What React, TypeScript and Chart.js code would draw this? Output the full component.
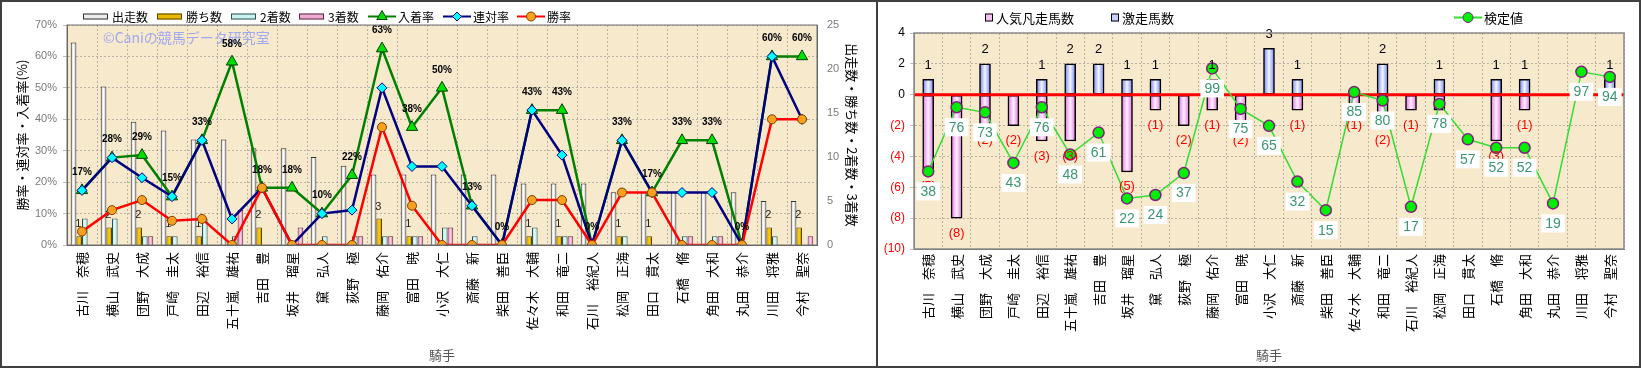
import React, { useEffect, useRef } from 'react';
import { Chart, registerables } from 'chart.js';

Chart.register(...registerables);

// ---------------- data ----------------
const jockeys = [
  '古川　奈穂', '横山　武史', '団野　大成', '戸崎　圭太', '田辺　裕信', '五十嵐　雄祐', '吉田　豊',
  '坂井　瑠星', '黛　弘人', '荻野　極', '藤岡　佑介', '富田　暁', '小沢　大仁', '斎藤　新',
  '柴田　善臣', '佐々木　大輔', '和田　竜二', '石川　裕紀人', '松岡　正海', '田口　貫太',
  '石橋　脩', '角田　大和', '丸田　恭介', '川田　将雅', '今村　聖奈',
];
const starts = [23, 18, 14, 13, 12, 12, 11, 11, 10, 9, 8, 8, 8, 8, 8, 7, 7, 7, 6, 6, 6, 6, 6, 5, 5];
const wins = [1, 2, 2, 1, 1, 0, 2, 0, 0, 0, 3, 1, 0, 0, 0, 1, 1, 0, 1, 1, 0, 0, 0, 2, 2];
const seconds = [3, 3, 1, 1, 3, 1, 0, 0, 1, 1, 1, 1, 2, 1, 0, 2, 1, 0, 1, 0, 1, 1, 0, 1, 0];
const thirds = [0, 0, 1, 0, 0, 4, 0, 2, 0, 1, 1, 1, 2, 0, 0, 0, 1, 0, 0, 0, 1, 1, 0, 0, 1];
const placeRate = [17.4, 27.8, 28.6, 15.4, 33.3, 58.3, 18.2, 18.2, 10.0, 22.2, 62.5, 37.5, 50.0, 12.5, 0, 42.9, 42.9, 0, 33.3, 16.7, 33.3, 33.3, 0, 60.0, 60.0];
const quinellaRate = [17.4, 27.8, 21.4, 15.4, 33.3, 8.3, 18.2, 0, 10.0, 11.1, 50.0, 25.0, 25.0, 12.5, 0, 42.9, 28.6, 0, 33.3, 16.7, 16.7, 16.7, 0, 60.0, 40.0];
const winRate = [4.3, 11.1, 14.3, 7.7, 8.3, 0, 18.2, 0, 0, 0, 37.5, 12.5, 0, 0, 0, 14.3, 14.3, 0, 16.7, 16.7, 0, 0, 0, 40.0, 40.0];

const flopCounts = [-5, -8, -2, -2, -3, -3, 0, -5, -1, -2, -1, -2, 0, -1, 0, -1, -2, -1, -1, 0, -3, -1, 0, 0, 0];
const upsetCounts = [1, 0, 2, 0, 1, 2, 2, 1, 1, 0, 1, 0, 3, 1, 0, 0, 2, 0, 1, 0, 1, 1, 0, 0, 1];
const testScores = [38, 76, 73, 43, 76, 48, 61, 22, 24, 37, 99, 75, 65, 32, 15, 85, 80, 17, 78, 57, 52, 52, 19, 97, 94];

const leftSeriesLabels = ['出走数', '勝ち数', '2着数', '3着数', '入着率', '連対率', '勝率'];
const rightSeriesLabels = ['人気凡走馬数', '激走馬数', '検定値'];
const rateAxisTitle = '勝率・連対率・入着率(%)';
const countAxisTitle = '出走数・勝ち数・2着数・3着数';
const xAxisTitle = '騎手';
const watermarkText = '©Caniの競馬データ研究室';

// ---------------- styles ----------------
const JP = "'Noto Sans CJK JP', sans-serif";
const NUM = "'Liberation Sans', 'Noto Sans CJK JP', sans-serif";
const PARCH = '#f7e9cc';
const GRID = 'rgba(110,110,110,0.45)';

function barFill(stops: string[], slot: number, slots: number, groupPct: number, fixedWidth?: number) {
  return (c: any) => {
    const chart = c.chart;
    const xs = chart.scales && chart.scales.x;
    if (c.type !== 'data' || !xs || !xs.width) return stops[1];
    const n = chart.data.labels.length;
    const cw = xs.width / n;
    const bw = fixedWidth !== undefined ? fixedWidth : (cw * groupPct) / slots;
    const cx = xs.getPixelForValue(c.dataIndex) + (slot - (slots - 1) / 2) * bw;
    const g = chart.ctx.createLinearGradient(cx - bw / 2, 0, cx + bw / 2, 0);
    g.addColorStop(0, stops[0]);
    g.addColorStop(0.5, stops[1]);
    g.addColorStop(1, stops[2]);
    return g;
  };
}

function drawMarker(ctx: CanvasRenderingContext2D, kind: string, x: number, y: number, r: number, fill: string, stroke: string, lw: number) {
  ctx.beginPath();
  if (kind === 'triangle') {
    ctx.moveTo(x, y - r);
    ctx.lineTo(x + r * 0.866, y + r * 0.5);
    ctx.lineTo(x - r * 0.866, y + r * 0.5);
    ctx.closePath();
  } else if (kind === 'diamond') {
    ctx.moveTo(x, y - r);
    ctx.lineTo(x + r, y);
    ctx.lineTo(x, y + r);
    ctx.lineTo(x - r, y);
    ctx.closePath();
  } else {
    ctx.arc(x, y, r, 0, Math.PI * 2);
  }
  ctx.fillStyle = fill;
  ctx.fill();
  ctx.lineWidth = lw;
  ctx.strokeStyle = stroke;
  ctx.stroke();
}

type LegendStyle = {
  x: number; kind: 'bar' | 'line' | 'square'; fill: string; stroke: string;
  line?: string; marker?: string; markerFill?: string; markerStroke?: string; r?: number;
};

function drawLegend(chart: any, styles: LegendStyle[], y: number, font: string) {
  const ctx: CanvasRenderingContext2D = chart.ctx;
  ctx.save();
  ctx.font = font;
  ctx.textBaseline = 'middle';
  ctx.textAlign = 'left';
  styles.forEach((st, i) => {
    const label = chart.data.datasets[i].label;
    let tx = st.x;
    if (st.kind === 'bar') {
      ctx.fillStyle = st.fill;
      ctx.strokeStyle = st.stroke;
      ctx.lineWidth = 1;
      ctx.fillRect(st.x, y - 3, 25, 6);
      ctx.strokeRect(st.x + 0.5, y - 2.5, 24, 5);
      tx = st.x + 29;
    } else if (st.kind === 'square') {
      ctx.fillStyle = st.fill;
      ctx.strokeStyle = st.stroke;
      ctx.lineWidth = 1;
      ctx.fillRect(st.x, y - 4, 8, 8);
      ctx.strokeRect(st.x + 0.5, y - 3.5, 7, 7);
      tx = st.x + 11;
    } else {
      ctx.strokeStyle = st.line || '#000';
      ctx.lineWidth = 2;
      ctx.beginPath();
      ctx.moveTo(st.x, y);
      ctx.lineTo(st.x + 28, y);
      ctx.stroke();
      drawMarker(ctx, st.marker || 'circle', st.x + 14, y, st.r || 4.5, st.markerFill || '#fff', st.markerStroke || '#000', 1);
      tx = st.x + 30;
    }
    ctx.fillStyle = '#000';
    ctx.fillText(label, tx, y + 0.5);
  });
  ctx.restore();
}

function fillArea(chart: any) {
  const { ctx, chartArea: a } = chart;
  ctx.save();
  ctx.fillStyle = PARCH;
  ctx.fillRect(a.left, a.top, a.right - a.left, a.bottom - a.top);
  ctx.restore();
}

function strokeArea(chart: any, color: string, lw: number) {
  const { ctx, chartArea: a } = chart;
  ctx.save();
  ctx.strokeStyle = color;
  ctx.lineWidth = lw;
  ctx.strokeRect(a.left, a.top, a.right - a.left, a.bottom - a.top);
  ctx.restore();
}

const leftLegendStyles: LegendStyle[] = [
  { x: 83, kind: 'bar', fill: '#ececec', stroke: '#303030' },
  { x: 157, kind: 'bar', fill: '#e8b800', stroke: '#5a4400' },
  { x: 231, kind: 'bar', fill: '#c8f2f2', stroke: '#305050' },
  { x: 299, kind: 'bar', fill: '#f2a8d0', stroke: '#503040' },
  { x: 368, kind: 'line', fill: '', stroke: '', line: '#008000', marker: 'triangle', markerFill: '#00e000', markerStroke: '#004000', r: 6 },
  { x: 443, kind: 'line', fill: '', stroke: '', line: '#000080', marker: 'diamond', markerFill: '#00ffff', markerStroke: '#000080', r: 4.5 },
  { x: 517, kind: 'line', fill: '', stroke: '', line: '#ff0000', marker: 'circle', markerFill: '#f8a020', markerStroke: '#804000', r: 4.5 },
];

const rightLegendStyles: LegendStyle[] = [
  { x: 107, kind: 'square', fill: '#f6c0f6', stroke: '#000' },
  { x: 233, kind: 'square', fill: '#c8d0ff', stroke: '#000' },
  { x: 576, kind: 'line', fill: '', stroke: '', line: '#33dd33', marker: 'circle', markerFill: '#00ee00', markerStroke: '#802080', r: 5 },
];

const leftDecor = {
  id: 'leftDecor',
  beforeDraw(chart: any) { fillArea(chart); },
  beforeDatasetsDraw(chart: any) {
    const { ctx, chartArea: a } = chart;
    ctx.save();
    ctx.font = `14px ${JP}`;
    ctx.fillStyle = '#a0a8f0';
    ctx.textAlign = 'left';
    ctx.textBaseline = 'middle';
    ctx.fillText(watermarkText, a.left + 36, a.top + 13);
    ctx.restore();
  },
  afterDatasetDraw(chart: any, args: any) {
    if (args.index !== 0) return;
    const ctx = chart.ctx;
    const meta = chart.getDatasetMeta(1);
    ctx.save();
    ctx.font = `11px ${NUM}`;
    ctx.fillStyle = '#222';
    ctx.textAlign = 'center';
    ctx.textBaseline = 'middle';
    meta.data.forEach((bar: any, i: number) => {
      if (wins[i] > 0) ctx.fillText(String(wins[i]), bar.x - 1, bar.y - 12);
    });
    ctx.restore();
  },
  afterDatasetsDraw(chart: any) {
    const ctx = chart.ctx;
    const meta = chart.getDatasetMeta(4);
    ctx.save();
    ctx.font = `bold 10px ${NUM}`;
    ctx.fillStyle = '#000';
    ctx.textAlign = 'center';
    ctx.textBaseline = 'middle';
    meta.data.forEach((pt: any, i: number) => {
      ctx.fillText(`${Math.round(placeRate[i])}%`, pt.x, pt.y - 18);
    });
    ctx.restore();
    strokeArea(chart, '#707070', 1);
  },
  afterDraw(chart: any) {
    drawLegend(chart, leftLegendStyles, 16.5, `12px ${JP}`);
  },
};

const rightDecor = {
  id: 'rightDecor',
  beforeDraw(chart: any) { fillArea(chart); },
  beforeDatasetDraw(chart: any, args: any) {
    if (args.index !== 2) return;
    const { ctx, chartArea: a } = chart;
    const y0 = chart.scales.y.getPixelForValue(0);
    ctx.save();
    ctx.strokeStyle = '#ff0000';
    ctx.lineWidth = 3;
    ctx.beginPath();
    ctx.moveTo(a.left, y0);
    ctx.lineTo(a.right, y0);
    ctx.stroke();
    ctx.restore();
  },
  afterDatasetsDraw(chart: any) {
    const ctx = chart.ctx;
    ctx.save();
    ctx.font = `13px ${NUM}`;
    ctx.textAlign = 'center';
    ctx.textBaseline = 'middle';
    const flopMeta = chart.getDatasetMeta(0);
    const upMeta = chart.getDatasetMeta(1);
    upMeta.data.forEach((bar: any, i: number) => {
      if (upsetCounts[i] > 0) {
        ctx.fillStyle = '#000';
        ctx.fillText(String(upsetCounts[i]), bar.x, bar.y - 14);
      }
    });
    flopMeta.data.forEach((bar: any, i: number) => {
      if (flopCounts[i] < 0) {
        ctx.fillStyle = '#ff0000';
        ctx.fillText(`(${-flopCounts[i]})`, bar.x, bar.y + 15);
      }
    });
    const lineMeta = chart.getDatasetMeta(2);
    ctx.font = `14px ${NUM}`;
    lineMeta.data.forEach((pt: any, i: number) => {
      const t = String(testScores[i]);
      const w = ctx.measureText(t).width + 8;
      const cy = pt.y + 20;
      ctx.fillStyle = '#ffffff';
      ctx.fillRect(pt.x - w / 2, cy - 9, w, 18);
      ctx.fillStyle = '#3a9670';
      ctx.fillText(t, pt.x, cy + 0.5);
    });
    ctx.restore();
  },
  afterDraw(chart: any) {
    strokeArea(chart, '#8a8a8a', 1.5);
    drawLegend(chart, rightLegendStyles, 17.5, `13px ${JP}`);
  },
};

function xScale(height: number, pad: number) {
  return {
    offset: true,
    stacked: true,
    grid: { display: true, color: GRID, offset: true, drawTicks: false },
    border: { display: true, color: '#606060', width: 1, dash: [2, 2] },
    ticks: { autoSkip: false, minRotation: 90, maxRotation: 90, padding: pad, color: '#000', font: { family: JP, size: 13 } },
    title: { display: true, text: xAxisTitle, color: '#555', font: { family: JP, size: 13 }, padding: { top: 0, bottom: 5 } },
    afterFit: (s: any) => { s.height = height; },
  };
}

function leftConfig(): any {
  return {
    type: 'bar',
    data: {
      labels: jockeys,
      datasets: [
        { type: 'bar', label: leftSeriesLabels[0], data: starts, yAxisID: 'y1', backgroundColor: barFill(['#c4c4c4', '#ffffff', '#a8a8a8'], 0, 4, 0.75), borderColor: '#303030', borderWidth: 1, categoryPercentage: 0.75, barPercentage: 1, order: 10 },
        { type: 'bar', label: leftSeriesLabels[1], data: wins, yAxisID: 'y1', backgroundColor: barFill(['#c89400', '#ffd400', '#b08000'], 1, 4, 0.75), borderColor: '#5a4400', borderWidth: 1, categoryPercentage: 0.75, barPercentage: 1, order: 10 },
        { type: 'bar', label: leftSeriesLabels[2], data: seconds, yAxisID: 'y1', backgroundColor: barFill(['#a0e0e0', '#e4ffff', '#90d0d0'], 2, 4, 0.75), borderColor: '#305050', borderWidth: 1, categoryPercentage: 0.75, barPercentage: 1, order: 10 },
        { type: 'bar', label: leftSeriesLabels[3], data: thirds, yAxisID: 'y1', backgroundColor: barFill(['#e878b0', '#ffd0e8', '#e070a8'], 3, 4, 0.75), borderColor: '#503040', borderWidth: 1, categoryPercentage: 0.75, barPercentage: 1, order: 10 },
        { type: 'line', label: leftSeriesLabels[4], data: placeRate, yAxisID: 'y', borderColor: '#008000', borderWidth: 2.5, pointStyle: 'triangle', pointRadius: 6.5, pointBackgroundColor: '#00e000', pointBorderColor: '#004000', pointBorderWidth: 1, order: 3 },
        { type: 'line', label: leftSeriesLabels[5], data: quinellaRate, yAxisID: 'y', borderColor: '#000080', borderWidth: 2.5, pointStyle: 'rectRot', pointRadius: 5, pointBackgroundColor: '#00ffff', pointBorderColor: '#000080', pointBorderWidth: 1, order: 2 },
        { type: 'line', label: leftSeriesLabels[6], data: winRate, yAxisID: 'y', borderColor: '#ff0000', borderWidth: 2.5, pointStyle: 'circle', pointRadius: 4.5, pointBackgroundColor: '#f8a020', pointBorderColor: '#804000', pointBorderWidth: 1, order: 1 },
      ],
    },
    options: {
      responsive: false,
      animation: false,
      layout: { padding: { top: 25, left: 0, right: 0, bottom: 0 } },
      plugins: { legend: { display: false }, tooltip: { enabled: false } },
      scales: {
        x: { ...xScale(123, 7), stacked: false },
        y: {
          position: 'left', min: 0, max: 70,
          ticks: { stepSize: 10, callback: (v: any) => `${v}%`, color: '#7a7a7a', font: { family: NUM, size: 11 }, padding: 6 },
          grid: { color: GRID, tickLength: 4, drawTicks: true },
          border: { color: '#606060', dash: [2, 2] },
          title: { display: true, text: rateAxisTitle, color: '#000', font: { family: JP, size: 13 }, padding: { top: 14, bottom: 0 } },
          afterFit: (s: any) => { s.width = 67; },
        },
        y1: {
          position: 'right', min: 0, max: 25,
          ticks: { stepSize: 5, color: '#7a7a7a', font: { family: NUM, size: 11 }, padding: 10 },
          grid: { display: false, drawTicks: false },
          border: { color: '#606060' },
          title: { display: true, text: countAxisTitle, color: '#000', font: { family: JP, size: 13 }, padding: { top: 16, bottom: 0 } },
          afterFit: (s: any) => { s.width = 59; },
        },
      },
    },
    plugins: [leftDecor],
  };
}

function rightConfig(): any {
  return {
    type: 'bar',
    data: {
      labels: jockeys,
      datasets: [
        { type: 'bar', label: rightSeriesLabels[0], data: flopCounts, stack: 's', backgroundColor: barFill(['#e070e0', '#fff0ff', '#e070e0'], 0, 1, 1, 11), borderColor: '#000', borderWidth: 1.5, borderSkipped: false, barThickness: 11, order: 5 },
        { type: 'bar', label: rightSeriesLabels[1], data: upsetCounts, stack: 's', backgroundColor: barFill(['#7080f0', '#f4f6ff', '#7080f0'], 0, 1, 1, 11), borderColor: '#000', borderWidth: 1.5, borderSkipped: false, barThickness: 11, order: 5 },
        { type: 'line', label: rightSeriesLabels[2], data: testScores, yAxisID: 'y2', borderColor: '#33dd33', borderWidth: 1.5, pointStyle: 'circle', pointRadius: 5.5, pointBackgroundColor: '#00ee00', pointBorderColor: '#802080', pointBorderWidth: 1.5, order: 1 },
      ],
    },
    options: {
      responsive: false,
      animation: false,
      layout: { padding: { top: 33, left: 0, right: 17, bottom: 0 } },
      plugins: { legend: { display: false }, tooltip: { enabled: false } },
      scales: {
        x: xScale(119, 5),
        y: {
          stacked: true, min: -10, max: 4,
          ticks: {
            stepSize: 2,
            callback: (v: any) => (v < 0 ? `(${-v})` : `${v}`),
            color: (c: any) => (c.tick && c.tick.value < 0 ? '#ff0000' : '#000'),
            font: { family: NUM, size: 12 }, padding: 5,
          },
          grid: { color: GRID, tickLength: 4 },
          border: { color: '#808080', dash: [2, 2] },
          afterFit: (s: any) => { s.width = 36; },
        },
        y2: { display: false, min: -8, max: 120 },
      },
    },
    plugins: [rightDecor],
  };
}

export default function App() {
  const leftRef = useRef<HTMLCanvasElement>(null);
  const rightRef = useRef<HTMLCanvasElement>(null);

  useEffect(() => {
    document.body.style.margin = '0';
    const c1 = new Chart(leftRef.current as HTMLCanvasElement, leftConfig());
    const c2 = new Chart(rightRef.current as HTMLCanvasElement, rightConfig());
    return () => {
      c1.destroy();
      c2.destroy();
    };
  }, []);

  const line = (l: number, t: number, w: number, h: number) => (
    <div style={{ position: 'absolute', left: l, top: t, width: w, height: h, background: '#404040' }} />
  );

  return (
    <div style={{ position: 'relative', width: 1641, height: 368, background: '#fff', overflow: 'hidden' }}>
      <canvas ref={leftRef} width={876} height={368} style={{ position: 'absolute', left: 0, top: 0, width: 876, height: 368 }} />
      <canvas ref={rightRef} width={763} height={368} style={{ position: 'absolute', left: 878, top: 0, width: 763, height: 368 }} />
      {line(0, 0, 1641, 2)}
      {line(0, 366, 1641, 2)}
      {line(0, 0, 2, 368)}
      {line(1639, 0, 2, 368)}
      {line(876, 0, 2, 368)}
    </div>
  );
}
